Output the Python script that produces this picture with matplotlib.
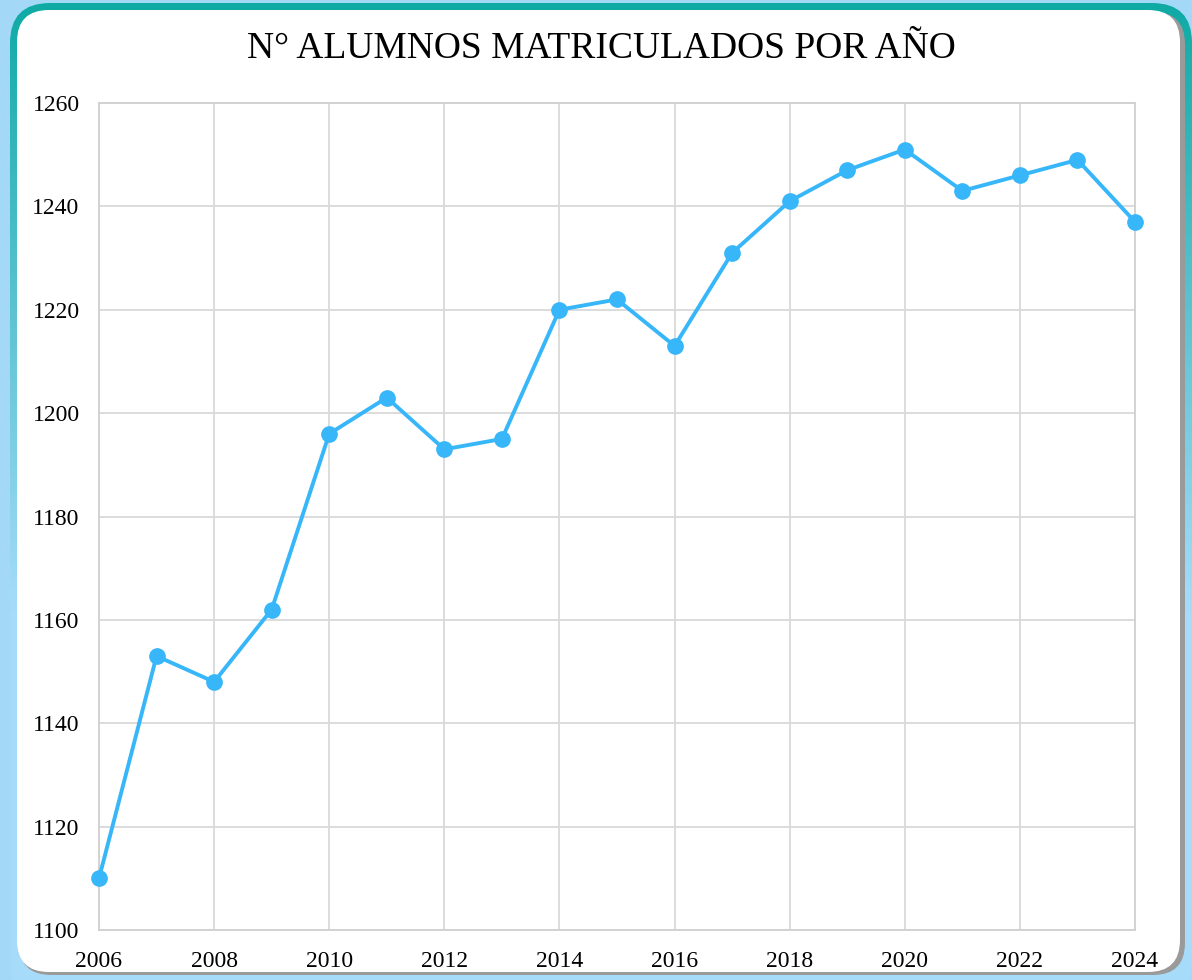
import numpy as np
from matplotlib import pyplot as plt
from matplotlib.patches import FancyBboxPatch

years = [2006, 2007, 2008, 2009, 2010, 2011, 2012, 2013, 2014, 2015,
         2016, 2017, 2018, 2019, 2020, 2021, 2022, 2023, 2024]
alumnos = [1110, 1153, 1148, 1162, 1196, 1203, 1193, 1195, 1220, 1222,
           1213, 1231, 1241, 1247, 1251, 1243, 1246, 1249, 1237]
x_ticks = [2006, 2008, 2010, 2012, 2014, 2016, 2018, 2020, 2022, 2024]
y_ticks = [1100, 1120, 1140, 1160, 1180, 1200, 1220, 1240, 1260]
title = 'N° ALUMNOS MATRICULADOS POR AÑO'

plt.rcParams['font.family'] = ['Liberation Serif', 'DejaVu Serif']

W, H = 1192, 980
fig = plt.figure(figsize=(W / 100, H / 100), dpi=100, facecolor='#a3d9f7')

# background frame (pixel coordinates)
bg = fig.add_axes([0, 0, 1, 1])
bg.set_xlim(0, W)
bg.set_ylim(H, 0)
bg.axis('off')

# teal -> light blue gradient for the frame border
grad = np.linspace(0, 1, 256).reshape(-1, 1)
teal = np.array([0x10, 0xaa, 0xa5]) / 255
light = np.array([0xa6, 0xdc, 0xfa]) / 255
t = np.clip(grad * 1.6, 0, 1)
img = teal * (1 - t) + light * t
img = img.reshape(256, 1, 3)
frame = FancyBboxPatch((10, 3), 1182, 1000, boxstyle='round,pad=0,rounding_size=40',
                       facecolor='none', edgecolor='none')
bg.add_patch(frame)
im = bg.imshow(img, extent=(10, 1192, 980, 3), aspect='auto', zorder=1)
im.set_clip_path(frame)

# shadow + white panel
shadow = FancyBboxPatch((19, 12), 1166, 963, boxstyle='round,pad=0,rounding_size=32',
                        facecolor='#9a9a9a', edgecolor='none', zorder=2)
bg.add_patch(shadow)
panel = FancyBboxPatch((17, 10), 1163, 962, boxstyle='round,pad=0,rounding_size=32',
                       facecolor='white', edgecolor='none', zorder=3)
bg.add_patch(panel)

# main chart
ax = fig.add_axes([99 / W, 50 / H, (1135 - 99) / W, (930 - 103) / H])
ax.set_facecolor('none')
ax.plot(years, alumnos, color='#37b6f9', lw=2.8, marker='o', ms=11,
        zorder=3, clip_on=False)
ax.set_xlim(2006, 2024)
ax.set_ylim(1100, 1260)
ax.set_xticks(x_ticks)
ax.set_yticks(y_ticks)
ax.grid(True, color='#d9d9d9', lw=1.3)
ax.set_axisbelow(True)
for s in ax.spines.values():
    s.set_color('#d0d0d0')
    s.set_linewidth(1.3)
ax.tick_params(length=0, labelsize=17, colors='black')
ax.tick_params(axis='y', pad=14)
ax.tick_params(axis='x', pad=15)

fig.text(601 / W, 1 - 49 / H, title, ha='center', va='center', fontsize=27)

plt.savefig('out.png', dpi=100, facecolor=fig.get_facecolor())
